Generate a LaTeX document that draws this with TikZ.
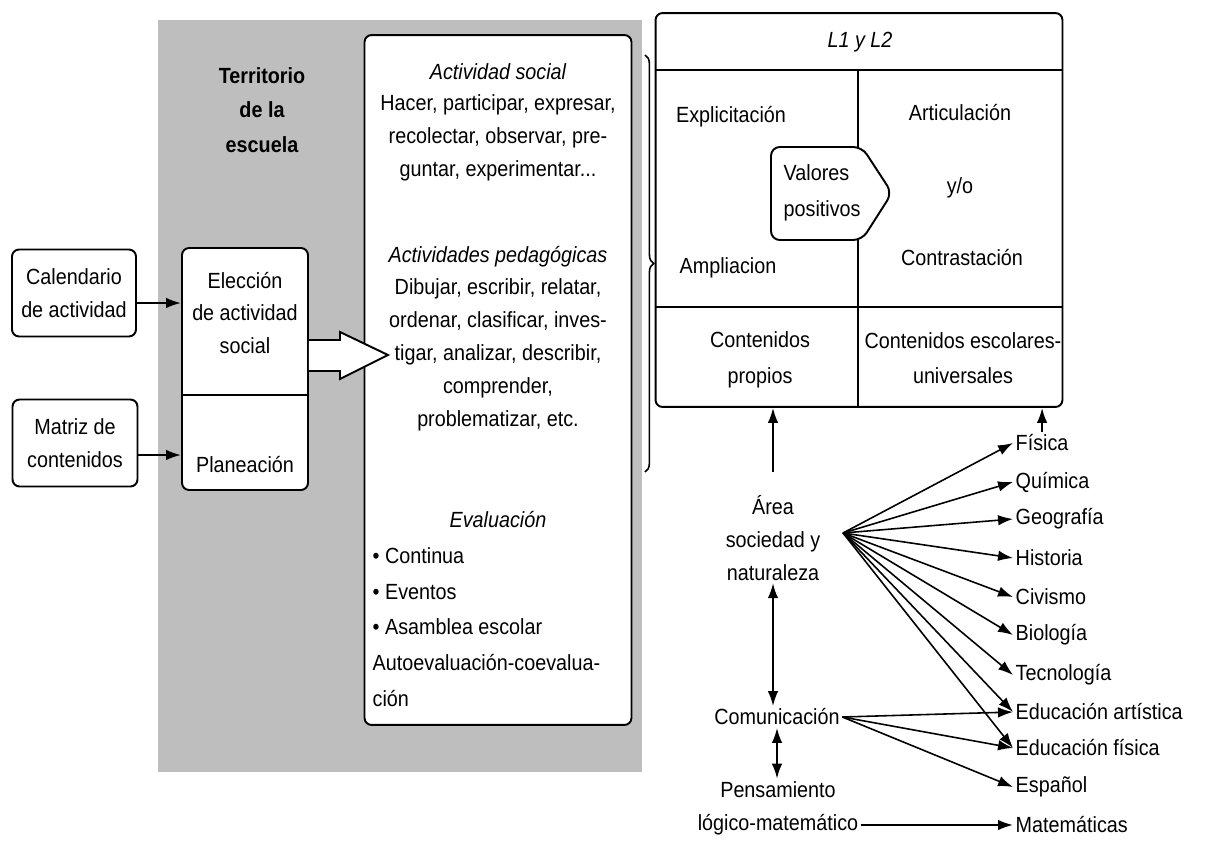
\documentclass[tikz,border=0pt]{standalone}
\usepackage{fontspec}
\setmainfont{Liberation Sans}[FakeStretch=0.9]
\usetikzlibrary{arrows.meta,decorations.pathreplacing}
\definecolor{ngray}{RGB}{190,190,190}

\begin{document}
\begin{tikzpicture}[x=0.02cm, y=-0.02cm, line width=1.1pt,
    >={Latex[length=8.5pt,width=6pt]},
    every node/.style={font=\fontsize{12.5}{18.7}\selectfont, align=center, inner sep=1pt},
    ital/.style={font=\fontsize{12.5}{18.7}\selectfont\itshape},
    box/.style={draw, rounded corners=4pt}]
    \useasboundingbox (0,0) rectangle (1217,855);

    % territorio de la escuela
    \fill[ngray] (158,20) rectangle (642,772);
    \node[font=\fontsize{12.5}{19.5}\selectfont\bfseries] (terr) at (262,110) {Territorio\\de la\\escuela};

    \node[box, minimum width=2.48cm, minimum height=1.74cm] (cal) at (74,293) {Calendario\\de actividad};
    \node[box, minimum width=2.5cm, minimum height=1.74cm] (mat) at (75,443) {Matriz de\\contenidos};

    \node[box, fill=white, minimum width=2.52cm, minimum height=4.84cm] (elbox) at (245,369) {};
    \draw (elbox.west |- 0,395) -- (elbox.east |- 0,395);
    \node (elec) at (245,313) {Elección\\de actividad\\social};
    \node (plan) at (245,465) {Planeación};
    \draw[->] (cal.east |- 0,303) -- (elbox.west |- 0,303);
    \draw[->] (mat.east |- 0,455) -- (elbox.west |- 0,455);

    % actividades
    \node[box, fill=white, minimum width=5.34cm, minimum height=13.8cm] (act) at (498,380) {};
    \node[ital] (asoc) at (498,72) {Actividad social};
    \node (asoctx) at (498,138) {Hacer, participar, expresar,\\recolectar, observar, pre-\\guntar, experimentar...};
    \node[ital] (aped) at (498,257) {Actividades pedagógicas};
    \node (apedtx) at (498,355) {Dibujar, escribir, relatar,\\ordenar, clasificar, inves-\\tigar, analizar, describir,\\comprender,\\problematizar, etc.};
    \node[ital] (eval) at (498,520) {Evaluación};
    \node[anchor=west, align=left, font=\fontsize{12.5}{20.3}\selectfont] (evaltx) at (370,627)
        {\textbullet\ Continua\\\textbullet\ Eventos\\\textbullet\ Asamblea escolar\\Autoevaluación-coevalua-\\ción};
    \draw[fill=white] (elbox.east |- 0,340) -- (340,340) -- (340,332) -- (388,355)
        -- (340,379) -- (340,371) -- (elbox.east |- 0,371);
    \draw[decorate, decoration={brace, amplitude=5pt}, line width=0.9pt] (645,55) -- (645,472);

    % L1 y L2
    \node[box, minimum width=8.14cm, minimum height=7.88cm] (lbox) at (859,210) {};
    \draw (lbox.west |- 0,70) -- (lbox.east |- 0,70);
    \draw (lbox.west |- 0,307) -- (lbox.east |- 0,307);
    \draw (858,70) -- (lbox.south -| 858,0);
    \draw[fill=white, rounded corners=5pt] (771,147) -- (862,147) -- (892,193) -- (862,240) -- (771,240) -- cycle;
    \node[anchor=west, align=left, font=\fontsize{12.5}{20.5}\selectfont] (valor) at (781,193) {Valores\\positivos};
    \node[ital] (lyl) at (860,42) {L1 y L2};
    \node (expl) at (731,117) {Explicitación};
    \node (ampl) at (728,268) {Ampliacion};
    \node (artic) at (960,113) {Articulación};
    \node (yo) at (960,188) {y/o};
    \node (contr) at (962,258) {Contrastación};
    \node[font=\fontsize{12.5}{20.3}\selectfont] (cprop) at (760,360) {Contenidos\\propios};
    \node[font=\fontsize{12.5}{20.3}\selectfont] (cesc) at (963,358) {Contenidos escolares-\\universales};

    % areas y asignaturas
    \node (area) at (773,538) {Área\\sociedad y\\naturaleza};
    \node (comu) at (777,717) {Comunicación};
    \node (pens) at (778,808) {Pensamiento\\lógico-matemático};
    \coordinate (fan) at (843,533);
    \foreach \n/\t/\y in {fis/Física/443, qui/Química/482, geo/Geografía/519, his/Historia/558,
        civ/Civismo/597, bio/Biología/635, tec/Tecnología/675, eart/Educación artística/712,
        efis/Educación física/748, esp/Español/787, mate/Matemáticas/825}
        \node[anchor=west] (\n) at (1013,\y) {\t};

    \draw[->] (area |- 0,472) -- (area |- lbox.south);
    \draw[->] (fis.north) -- (fis.north |- lbox.south);
    \draw[<->] (area.south) -- (area.south |- comu.north);
    \draw[<->] (comu.south) -- (comu.south |- pens.north);
    \draw[->] (pens.east |- mate) -- (mate.west);
    \foreach \s in {fis,qui,geo,his,civ,bio,tec,eart,efis}
        \draw[->, line width=0.9pt] (fan) -- (\s.west);
    \foreach \s in {eart,efis,esp}
        \draw[->, line width=0.9pt] (comu.east) -- (\s.west);
\end{tikzpicture}
\end{document}
